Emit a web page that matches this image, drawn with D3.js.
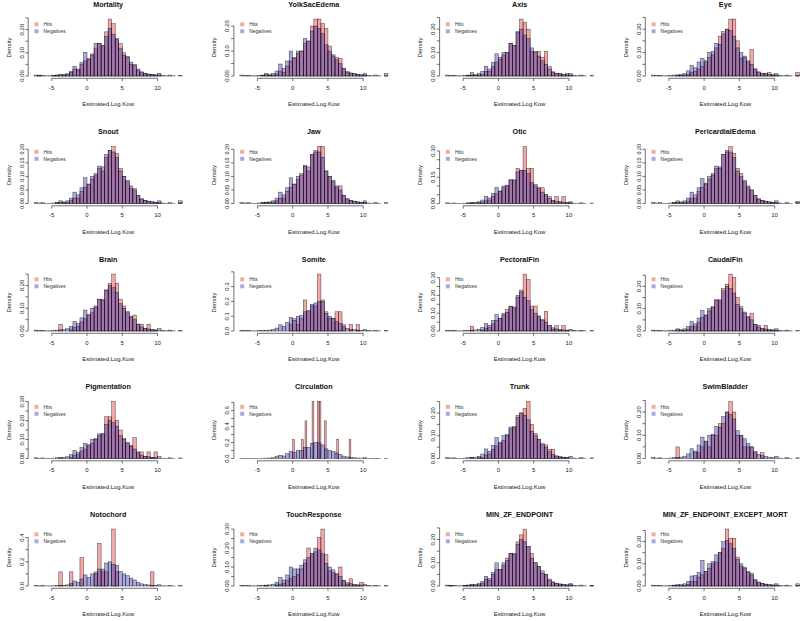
<!DOCTYPE html>
<html><head><meta charset="utf-8">
<script src="https://cdn.jsdelivr.net/npm/d3@7/dist/d3.min.js"></script>
<style>
html,body{margin:0;padding:0;background:#fff;}
svg{display:block;font-family:"Liberation Sans",Arial,Helvetica,sans-serif;}
</style></head>
<body><svg id="chart" width="800" height="621"></svg>
<script>
// ---------- data (densities per bin; bins of 0.5 from -7.5 to 13.5) ----------
const binStart = -7.5, binWidth = 0.5;
const titles = ["Mortality","YolkSacEdema","Axis","Eye","Snout","Jaw","Otic","PericardialEdema",
  "Brain","Somite","PectoralFin","CaudalFin","Pigmentation","Circulation","Trunk","SwimBladder",
  "Notochord","TouchResponse","MIN_ZF_ENDPOINT","MIN_ZF_ENDPOINT_EXCEPT_MORT"];
const xTickLabels = ["-5","0","5","10"];
const xTickValues = [-5,0,5,10];
const legendLabels = ["Hits","Negatives"];

const hitsMortality = [0,0.004,0,0,0,0.002,0.004,0.008,0.004,0.006, 0.015,0.03,0.025,0.05,0.065, 0.075,0.09,0.12,0.14,0.13, 0.19,0.245,0.225,0.16,0.14, 0.10,0.085,0.05,0.05,0.025, 0.015,0.012,0.008,0.006,0.004, 0.004,0,0,0,0,0,0];
const negMortality = [0.004,0.002,0.003,0.001,0.001,0.002,0.004,0.004,0.006,0.010, 0.020,0.042,0.030,0.058,0.102, 0.072,0.095,0.140,0.140,0.130, 0.170,0.205,0.180,0.160,0.120, 0.090,0.080,0.060,0.045,0.030, 0.018,0.012,0.008,0.006,0.005, 0.012,0.002,0.001,0.004,0.001,0,0.003];
const hitsYolkSacEdema = [0,0,0,0,0,0,0.002,0.01,0.003,0.004, 0.008,0.02,0.015,0.04,0.06, 0.075,0.09,0.10,0.13,0.14, 0.20,0.228,0.228,0.21,0.19, 0.12,0.08,0.075,0.07,0.03, 0.015,0.012,0.01,0.006,0.004, 0.004,0,0,0,0,0,0.01];
const negYolkSacEdema = [0.004,0.002,0.003,0.001,0.001,0.002,0.004,0.005,0.006,0.010, 0.020,0.048,0.030,0.060,0.100, 0.070,0.100,0.100,0.150,0.140, 0.180,0.200,0.190,0.170,0.125, 0.100,0.085,0.065,0.050,0.030, 0.018,0.012,0.009,0.006,0.005, 0.010,0.002,0.001,0.004,0.001,0,0.001];
const hitsAxis = [0,0,0,0,0,0,0.003,0.015,0.003,0.004, 0.008,0.02,0.02,0.04,0.06, 0.08,0.09,0.10,0.14,0.13, 0.185,0.243,0.229,0.20,0.105, 0.105,0.105,0.08,0.105,0.04, 0.015,0.01,0.01,0.006,0.01, 0.004,0,0,0,0,0,0];
const negAxis = [0.004,0.002,0.003,0.001,0.001,0.002,0.004,0.005,0.006,0.010, 0.020,0.042,0.030,0.058,0.095, 0.072,0.100,0.100,0.140,0.130, 0.190,0.200,0.175,0.160,0.120, 0.100,0.085,0.065,0.050,0.030, 0.018,0.012,0.009,0.006,0.005, 0.010,0.002,0.001,0.004,0.001,0,0.003];
const hitsEye = [0,0,0,0,0,0,0,0.003,0.003,0.004, 0.006,0.015,0.02,0.03,0.04, 0.06,0.08,0.09,0.12,0.17, 0.19,0.20,0.243,0.243,0.15, 0.075,0.08,0.06,0.113,0.03, 0.015,0.01,0.012,0.015,0.005, 0.004,0,0,0,0,0,0.015];
const negEye = [0.004,0.002,0.003,0.001,0.001,0.002,0.004,0.005,0.006,0.010, 0.022,0.045,0.035,0.060,0.075, 0.065,0.100,0.105,0.140,0.135, 0.180,0.200,0.195,0.170,0.120, 0.100,0.085,0.065,0.050,0.030, 0.018,0.012,0.009,0.006,0.005, 0.010,0.002,0.001,0.004,0.001,0,0.002];
const hitsSnout = [0,0,0,0,0,0,0.003,0.01,0.003,0.005, 0.01,0.02,0.02,0.045,0.06, 0.07,0.09,0.11,0.13,0.12, 0.17,0.195,0.21,0.185,0.13, 0.10,0.08,0.055,0.055,0.03, 0.015,0.012,0.008,0.006,0.004, 0.004,0,0,0,0,0,0.01];
const negSnout = [0.004,0.002,0.003,0.001,0.001,0.002,0.004,0.005,0.006,0.010, 0.020,0.042,0.032,0.058,0.095, 0.072,0.100,0.105,0.138,0.135, 0.180,0.195,0.190,0.170,0.120, 0.100,0.085,0.065,0.050,0.030, 0.018,0.012,0.009,0.006,0.005, 0.010,0.002,0.001,0.004,0.001,0,0.003];
const hitsJaw = [0,0,0,0,0,0,0.003,0.005,0.003,0.005, 0.01,0.02,0.02,0.045,0.06, 0.07,0.09,0.11,0.14,0.12, 0.18,0.19,0.21,0.21,0.12, 0.10,0.08,0.06,0.065,0.03, 0.015,0.012,0.008,0.006,0.004, 0.004,0,0,0,0,0,0];
const negJaw = [0.004,0.002,0.003,0.001,0.001,0.002,0.004,0.005,0.006,0.010, 0.020,0.042,0.032,0.058,0.095, 0.072,0.100,0.105,0.138,0.135, 0.180,0.195,0.190,0.170,0.120, 0.100,0.085,0.065,0.050,0.030, 0.018,0.012,0.009,0.006,0.005, 0.010,0.002,0.001,0.004,0.001,0,0.003];
const hitsOtic = [0,0,0,0,0,0,0.002,0.004,0.003,0.004, 0.008,0.015,0.02,0.04,0.055, 0.07,0.09,0.10,0.13,0.13, 0.20,0.19,0.325,0.20,0.20, 0.11,0.09,0.09,0.05,0.04, 0.015,0.04,0.01,0.04,0.005, 0.004,0,0,0,0,0,0];
const negOtic = [0.004,0.002,0.003,0.001,0.001,0.002,0.004,0.005,0.006,0.010, 0.020,0.042,0.032,0.058,0.092, 0.072,0.100,0.105,0.138,0.135, 0.180,0.190,0.190,0.170,0.120, 0.100,0.085,0.065,0.050,0.030, 0.018,0.012,0.009,0.006,0.005, 0.010,0.002,0.001,0.004,0.001,0,0.003];
const hitsPericardialEdema = [0,0,0,0,0,0,0.003,0.01,0.003,0.004, 0.008,0.02,0.02,0.045,0.06, 0.075,0.09,0.11,0.13,0.13, 0.18,0.19,0.21,0.185,0.13, 0.11,0.08,0.06,0.05,0.03, 0.015,0.012,0.008,0.006,0.004, 0.004,0,0,0,0,0,0.008];
const negPericardialEdema = [0.004,0.002,0.003,0.001,0.001,0.002,0.004,0.005,0.006,0.010, 0.020,0.042,0.032,0.058,0.092, 0.072,0.100,0.105,0.138,0.135, 0.180,0.195,0.190,0.170,0.120, 0.100,0.085,0.065,0.050,0.030, 0.018,0.012,0.009,0.006,0.005, 0.010,0.002,0.001,0.004,0.001,0,0.003];
const hitsBrain = [0,0,0,0,0,0,0,0.03,0,0, 0.005,0.015,0.02,0.04,0.055, 0.07,0.08,0.11,0.14,0.14, 0.18,0.21,0.25,0.21,0.14, 0.11,0.08,0.06,0.07,0.03, 0.03,0.01,0.03,0.005,0.004, 0,0,0,0,0,0,0];
const negBrain = [0.004,0.002,0.003,0.001,0.001,0.002,0.004,0.005,0.006,0.010, 0.020,0.042,0.032,0.058,0.092, 0.072,0.100,0.105,0.138,0.135, 0.180,0.200,0.190,0.170,0.120, 0.100,0.085,0.065,0.050,0.030, 0.018,0.012,0.009,0.006,0.005, 0.010,0.002,0.001,0.004,0.001,0,0.003];
const hitsSomite = [0,0,0,0,0,0,0,0,0,0, 0,0,0,0,0.043, 0.085,0.043,0.085,0.21,0.13, 0.17,0.17,0.385,0.21,0.13, 0.085,0.085,0.13,0.13,0.043, 0,0.043,0,0.043,0, 0,0,0,0,0,0,0];
const negSomite = [0.004,0.002,0.003,0.001,0.001,0.002,0.004,0.005,0.006,0.010, 0.020,0.042,0.032,0.058,0.092, 0.072,0.100,0.105,0.130,0.140, 0.180,0.190,0.200,0.200,0.120, 0.100,0.085,0.065,0.050,0.030, 0.018,0.012,0.009,0.006,0.005, 0.010,0.002,0.001,0.004,0.001,0,0.003];
const hitsPectoralFin = [0,0,0,0,0,0,0,0.027,0,0, 0.005,0.015,0.02,0.04,0.06, 0.07,0.09,0.12,0.14,0.13, 0.19,0.23,0.32,0.29,0.14, 0.14,0.08,0.06,0.11,0.03, 0.01,0.03,0.005,0.03,0.004, 0,0,0,0,0,0,0];
const negPectoralFin = [0.004,0.002,0.003,0.001,0.001,0.002,0.004,0.005,0.006,0.010, 0.020,0.042,0.032,0.058,0.092, 0.072,0.100,0.105,0.138,0.135, 0.200,0.220,0.190,0.170,0.120, 0.100,0.085,0.065,0.050,0.030, 0.018,0.012,0.009,0.006,0.005, 0.010,0.002,0.001,0.004,0.001,0,0.003];
const hitsCaudalFin = [0,0,0,0,0,0,0,0.01,0.003,0.003, 0.008,0.02,0.02,0.04,0.06, 0.07,0.09,0.11,0.14,0.14, 0.19,0.21,0.255,0.24,0.15, 0.11,0.08,0.06,0.08,0.03, 0.025,0.01,0.025,0.005,0.004, 0.004,0,0,0,0,0,0];
const negCaudalFin = [0.004,0.002,0.003,0.001,0.001,0.002,0.004,0.005,0.006,0.010, 0.020,0.042,0.032,0.058,0.092, 0.072,0.100,0.105,0.138,0.135, 0.180,0.200,0.190,0.170,0.120, 0.100,0.085,0.065,0.050,0.030, 0.018,0.012,0.009,0.006,0.005, 0.010,0.002,0.001,0.004,0.001,0,0.003];
const hitsPigmentation = [0,0,0,0,0,0,0,0.003,0,0, 0.005,0.015,0.02,0.04,0.05, 0.07,0.08,0.10,0.12,0.13, 0.22,0.22,0.30,0.20,0.15, 0.106,0.08,0.07,0.11,0.035, 0.035,0.01,0.035,0.005,0.035, 0,0,0,0,0,0,0];
const negPigmentation = [0.004,0.002,0.003,0.001,0.001,0.002,0.004,0.005,0.006,0.010, 0.020,0.042,0.032,0.058,0.080, 0.072,0.100,0.105,0.130,0.130, 0.180,0.200,0.190,0.170,0.120, 0.100,0.085,0.065,0.050,0.030, 0.018,0.012,0.009,0.006,0.005, 0.010,0.002,0.001,0.004,0.001,0,0.003];
// Circulation hits use their own bins: 0.25 wide starting at 0
const circulationHitsStart = 0, circulationHitsWidth = 0.25;
const hitsCirculation = [0.235,0,0,0,0,0.235,0,0.47,0,0, 0,0.71,0,0,0.71,0.71,0,0,0.47,0, 0,0,0,0,0,0.235,0,0,0,0, 0,0,0.235];
const negCirculation = [0.004,0.002,0.003,0.001,0.001,0.002,0.004,0.005,0.006,0.010, 0.030,0.040,0.032,0.060,0.090, 0.075,0.100,0.100,0.140,0.140, 0.190,0.200,0.195,0.170,0.120, 0.100,0.090,0.070,0.050,0.030, 0.020,0.012,0.009,0.006,0.005, 0.010,0.002,0.001,0.004,0.001,0,0.003];
const hitsTrunk = [0,0,0,0,0,0,0,0.004,0,0.003, 0.005,0.015,0.02,0.04,0.055, 0.065,0.08,0.10,0.13,0.14, 0.19,0.20,0.22,0.25,0.15, 0.11,0.085,0.06,0.06,0.04, 0.04,0.01,0.006,0.005,0.004, 0,0,0,0,0,0,0];
const negTrunk = [0.004,0.002,0.003,0.001,0.001,0.002,0.004,0.005,0.006,0.010, 0.020,0.042,0.032,0.058,0.092, 0.072,0.100,0.105,0.138,0.135, 0.180,0.200,0.190,0.170,0.120, 0.100,0.085,0.065,0.050,0.030, 0.018,0.012,0.009,0.006,0.005, 0.010,0.002,0.001,0.004,0.001,0,0.003];
const hitsSwimBladder = [0,0,0,0,0,0,0,0.05,0,0, 0,0,0.025,0.025,0.05, 0.075,0.05,0.10,0.10,0.15, 0.15,0.20,0.245,0.20,0.10, 0.10,0.05,0.05,0.05,0.025, 0,0.025,0,0,0, 0,0,0,0,0,0,0];
const negSwimBladder = [0.004,0.002,0.003,0.001,0.001,0.002,0.004,0.005,0.006,0.010, 0.020,0.042,0.032,0.058,0.092, 0.072,0.100,0.105,0.138,0.135, 0.180,0.200,0.190,0.170,0.120, 0.100,0.085,0.065,0.050,0.030, 0.018,0.012,0.009,0.006,0.005, 0.010,0.002,0.001,0.004,0.001,0,0.003];
const hitsNotochord = [0,0,0,0,0,0,0,0.117,0,0, 0.117,0,0,0.235,0, 0,0,0.117,0.35,0.117, 0.117,0,0.47,0.117,0, 0,0,0,0,0, 0,0,0,0.117,0, 0,0,0,0,0,0,0];
const negNotochord = [0.004,0.002,0.003,0.001,0.001,0.002,0.004,0.005,0.006,0.010, 0.020,0.042,0.032,0.058,0.092, 0.072,0.100,0.105,0.140,0.140, 0.190,0.200,0.180,0.170,0.120, 0.100,0.085,0.065,0.050,0.030, 0.018,0.012,0.009,0.006,0.005, 0.010,0.002,0.001,0.004,0.001,0,0.003];
const hitsTouchResponse = [0,0,0,0,0,0,0,0.003,0,0, 0.005,0.01,0.015,0.03,0.04, 0.05,0.06,0.09,0.12,0.20, 0.17,0.18,0.255,0.30,0.165, 0.08,0.07,0.06,0.10,0.03, 0.01,0.038,0.005,0.005,0.02, 0,0,0,0,0,0,0];
const negTouchResponse = [0.004,0.002,0.003,0.001,0.001,0.002,0.004,0.005,0.006,0.010, 0.020,0.045,0.032,0.058,0.100, 0.090,0.090,0.110,0.138,0.150, 0.170,0.200,0.190,0.170,0.120, 0.100,0.085,0.065,0.050,0.030, 0.018,0.012,0.009,0.006,0.005, 0.010,0.002,0.001,0.004,0.001,0,0.003];
const hitsMinEndpoint = [0,0.003,0,0,0,0.002,0.004,0.008,0.004,0.005, 0.012,0.03,0.025,0.05,0.07, 0.07,0.09,0.12,0.14,0.14, 0.19,0.22,0.245,0.17,0.14, 0.10,0.085,0.055,0.05,0.025, 0.015,0.012,0.008,0.006,0.004, 0.006,0,0,0,0,0,0.002];
const negMinEndpoint = [0.004,0.002,0.003,0.001,0.001,0.002,0.004,0.005,0.006,0.010, 0.020,0.042,0.032,0.058,0.100, 0.072,0.100,0.110,0.140,0.135, 0.180,0.200,0.190,0.170,0.120, 0.100,0.085,0.065,0.050,0.030, 0.018,0.012,0.009,0.006,0.005, 0.010,0.002,0.001,0.004,0.001,0,0.003];
const hitsMinExceptMort = [0,0,0,0,0,0,0.003,0.005,0.002,0.003, 0.008,0.02,0.02,0.04,0.05, 0.065,0.08,0.10,0.108,0.15, 0.17,0.256,0.215,0.215,0.13, 0.09,0.08,0.06,0.058,0.025, 0.015,0.012,0.008,0.005,0.004, 0.004,0,0,0,0,0,0.01];
const negMinExceptMort = [0.004,0.002,0.003,0.001,0.001,0.002,0.004,0.005,0.006,0.010, 0.020,0.045,0.047,0.060,0.116, 0.065,0.100,0.110,0.140,0.150, 0.200,0.205,0.190,0.170,0.120, 0.100,0.085,0.065,0.050,0.030, 0.018,0.012,0.009,0.006,0.005, 0.010,0.002,0.001,0.004,0.001,0,0.003];

// y-axis tick step and the labels R kept on each panel
const yTickSteps = [0.05,0.05,0.05,0.05, 0.05,0.05,0.05,0.05, 0.05,0.1,0.05,0.05, 0.05,0.1,0.05,0.05, 0.1,0.05,0.05,0.05];
const yTickLabels = [
  ["0.00","0.10","0.20"],["0.00","0.10","0.20"],["0.00","0.10","0.20"],["0.00","0.10","0.20"],
  ["0.00","0.05","0.10","0.15","0.20"],["0.00","0.05","0.10","0.15","0.20"],["0.00","0.15","0.30"],["0.00","0.05","0.10","0.15","0.20"],
  ["0.00","0.10","0.20"],["0.0","0.1","0.2","0.3"],["0.00","0.10","0.20","0.30"],["0.00","0.10","0.20"],
  ["0.00","0.10","0.20","0.30"],["0.0","0.2","0.4","0.6"],["0.00","0.10","0.20"],["0.00","0.10","0.20"],
  ["0.0","0.2","0.4"],["0.00","0.10","0.20","0.30"],["0.00","0.10","0.20"],["0.00","0.10","0.20"]];

const hitsList = [hitsMortality,hitsYolkSacEdema,hitsAxis,hitsEye,hitsSnout,hitsJaw,hitsOtic,hitsPericardialEdema,
  hitsBrain,hitsSomite,hitsPectoralFin,hitsCaudalFin,hitsPigmentation,hitsCirculation,hitsTrunk,hitsSwimBladder,
  hitsNotochord,hitsTouchResponse,hitsMinEndpoint,hitsMinExceptMort];
const negList = [negMortality,negYolkSacEdema,negAxis,negEye,negSnout,negJaw,negOtic,negPericardialEdema,
  negBrain,negSomite,negPectoralFin,negCaudalFin,negPigmentation,negCirculation,negTrunk,negSwimBladder,
  negNotochord,negTouchResponse,negMinEndpoint,negMinExceptMort];

// ---------- drawing ----------
const hitsFill = "rgba(235,60,60,0.45)";
const negFill = "rgba(40,40,170,0.40)";
const svg = d3.select("#chart");
const col0 = 87, colStep = 205.7, row0 = 78.3, rowStep = 127.5;
const unitPx = 7.05, plotH = 61.5;
const xMin = -8.34, xMax = 14.34;

titles.forEach((t, i) => {
  const r = Math.floor(i / 4), c = i % 4;
  const zeroX = col0 + colStep * c;
  const bottom = row0 + rowStep * r;
  const x = d3.scaleLinear().domain([xMin, xMax]).range([zeroX + xMin * unitPx, zeroX + xMax * unitPx]);
  const hits = hitsList[i], neg = negList[i];
  const hStart = t === "Circulation" ? circulationHitsStart : binStart;
  const hWidth = t === "Circulation" ? circulationHitsWidth : binWidth;
  const ymax = Math.max(d3.max(hits), d3.max(neg));
  const y = d3.scaleLinear().domain([-0.04 * ymax, 1.04 * ymax]).range([bottom, bottom - plotH]);
  const g = svg.append("g");

  function bars(vals, start, w, fill) {
    g.append("g").selectAll("rect").data(vals).join("rect")
      .attr("x", (d, k) => x(start + k * w))
      .attr("width", (d, k) => x(start + (k + 1) * w) - x(start + k * w))
      .attr("y", d => y(d))
      .attr("height", d => y(0) - y(d))
      .attr("fill", fill)
      .attr("stroke", "#000").attr("stroke-opacity", 0.7).attr("stroke-width", 0.5);
  }
  bars(hits, hStart, hWidth, hitsFill);
  bars(neg, binStart, binWidth, negFill);

  // x axis
  const xa = g.append("g").attr("transform", `translate(0,${bottom})`);
  xa.append("line").attr("x1", x(xTickValues[0])).attr("x2", x(xTickValues[xTickValues.length - 1]))
    .attr("stroke", "#333").attr("stroke-width", 0.7);
  xTickValues.forEach((v, k) => {
    xa.append("line").attr("x1", x(v)).attr("x2", x(v)).attr("y1", 0).attr("y2", 2.8)
      .attr("stroke", "#333").attr("stroke-width", 0.7);
    xa.append("text").attr("x", x(v)).attr("y", 11.5).attr("text-anchor", "middle")
      .attr("font-size", 6).attr("fill", "#222").text(xTickLabels[k]);
  });
  // y axis
  const ax = x(xMin);
  const step = yTickSteps[i];
  const ticks = d3.range(0, 1.04 * ymax + 1e-9, step);
  const ya = g.append("g");
  ya.append("line").attr("x1", ax).attr("x2", ax).attr("y1", y(0)).attr("y2", y(ticks[ticks.length - 1]))
    .attr("stroke", "#333").attr("stroke-width", 0.7);
  ticks.forEach(v => {
    ya.append("line").attr("x1", ax - 2.8).attr("x2", ax).attr("y1", y(v)).attr("y2", y(v))
      .attr("stroke", "#333").attr("stroke-width", 0.7);
  });
  const labelSize = yTickLabels[i].length > 4 ? 5.4 : 6;
  yTickLabels[i].forEach(lbl => {
    const v = +lbl;
    ya.append("text").attr("transform", `translate(${ax - 4.6},${y(v)}) rotate(-90)`)
      .attr("text-anchor", "middle").attr("font-size", labelSize).attr("fill", "#222").text(lbl);
  });
  // titles
  const cx = (x(xMin) + x(xMax)) / 2;
  g.append("text").attr("x", cx).attr("y", bottom - 71.6).attr("text-anchor", "middle")
    .attr("font-size", 7.2).attr("font-weight", "bold").attr("fill", "#111").text(t);
  g.append("text").attr("x", cx).attr("y", bottom + 28).attr("text-anchor", "middle")
    .attr("font-size", 6).attr("fill", "#222").text("Estimated.Log.Kow");
  g.append("text").attr("transform", `translate(${ax - 17.5},${bottom - plotH / 2}) rotate(-90)`)
    .attr("text-anchor", "middle").attr("font-size", 6).attr("fill", "#222").text("Density");
  // legend
  [hitsFill, negFill].forEach((f, k) => {
    const ly = bottom - 54 + k * 7;
    g.append("rect").attr("x", zeroX - 52.5).attr("y", ly - 2).attr("width", 4).attr("height", 4).attr("fill", f);
    g.append("text").attr("x", zeroX - 43.5).attr("y", ly + 1.8).attr("font-size", 5)
      .attr("fill", "#333").text(legendLabels[k]);
  });
});
</script></body></html>
